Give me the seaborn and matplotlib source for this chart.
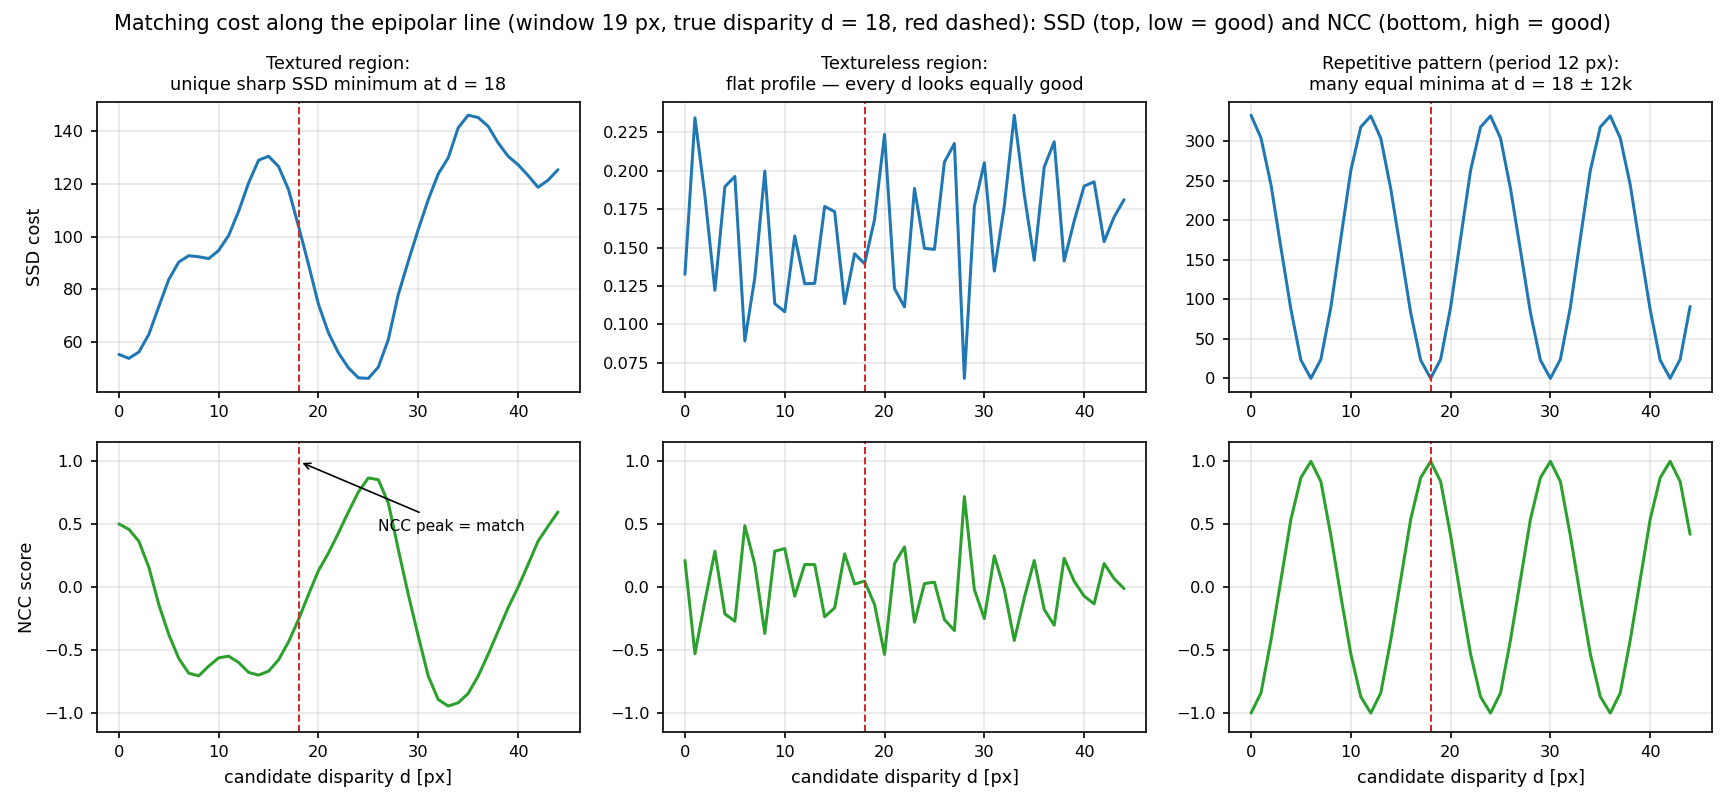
import numpy as np
import pandas as pd
import matplotlib
matplotlib.use("Agg")
import matplotlib.pyplot as plt
import seaborn as sns

# candidate disparities shown on every panel
disparity = list(range(45))
true_d = 18

# SSD cost
ssd_textured = [55.2, 53.7, 56.1, 62.8, 73.4, 83.7, 90.3, 92.7, 92.3, 91.6,
                94.7, 100.4, 109.6, 120.4, 129.0, 130.5, 126.6, 117.8, 103.9, 89.4,
                74.2, 63.4, 55.8, 50.1, 46.3, 46.1, 50.4, 60.9, 78.0, 90.6,
                102.7, 114.0, 123.8, 129.9, 141.3, 146.1, 145.2, 141.9, 135.6, 130.5,
                127.3, 123.2, 118.7, 121.4, 125.4]
ssd_textureless = [0.1326, 0.2343, 0.1837, 0.1222, 0.1895, 0.1962, 0.0893, 0.1304, 0.1997, 0.1135,
                   0.1083, 0.1575, 0.1265, 0.1267, 0.1767, 0.1733, 0.1135, 0.1460, 0.1395, 0.1683,
                   0.2235, 0.1233, 0.1114, 0.1884, 0.1495, 0.1488, 0.2055, 0.2176, 0.0650, 0.1769,
                   0.2051, 0.1347, 0.1769, 0.2360, 0.1845, 0.1417, 0.2023, 0.2187, 0.1412, 0.1672,
                   0.1899, 0.1927, 0.1538, 0.1698, 0.1811]
ssd_repetitive = [333, 304, 245, 165, 87, 23, 0, 24, 90, 177, 263, 318,
                  332, 304, 240, 162, 83, 23, 0, 24, 90, 177, 263, 318,
                  332, 304, 240, 162, 83, 23, 0, 24, 90, 177, 263, 318,
                  332, 304, 245, 165, 87, 23, 0, 24, 91]

# NCC score
ncc_textured = [0.503, 0.460, 0.365, 0.159, -0.138, -0.376, -0.566, -0.683, -0.704, -0.627,
                -0.561, -0.548, -0.598, -0.677, -0.698, -0.667, -0.577, -0.434, -0.257, -0.058,
                0.132, 0.272, 0.431, 0.598, 0.757, 0.868, 0.854, 0.669, 0.299, -0.058,
                -0.389, -0.706, -0.892, -0.944, -0.918, -0.844, -0.706, -0.534, -0.349, -0.164,
                0.000, 0.180, 0.365, 0.484, 0.598]
ncc_textureless = [0.212, -0.529, -0.111, 0.286, -0.212, -0.270, 0.489, 0.180, -0.368, 0.286,
                   0.307, -0.071, 0.180, 0.180, -0.235, -0.164, 0.265, 0.026, 0.048, -0.138,
                   -0.534, 0.188, 0.320, -0.278, 0.029, 0.040, -0.257, -0.344, 0.720, -0.019,
                   -0.249, 0.249, -0.019, -0.423, -0.085, 0.212, -0.177, -0.302, 0.230, 0.048,
                   -0.071, -0.132, 0.188, 0.069, -0.011]
ncc_repetitive = [-1.0, -0.84, -0.42, 0.06, 0.54, 0.87, 1.0, 0.84, 0.41, -0.07, -0.53, -0.87,
                  -1.0, -0.84, -0.42, 0.06, 0.54, 0.87, 1.0, 0.84, 0.41, -0.07, -0.53, -0.87,
                  -1.0, -0.84, -0.42, 0.06, 0.54, 0.87, 1.0, 0.84, 0.41, -0.07, -0.53, -0.87,
                  -1.0, -0.84, -0.42, 0.06, 0.54, 0.87, 1.0, 0.84, 0.42]

panel_titles = ["Textured region:\nunique sharp SSD minimum at d = 18",
                "Textureless region:\nflat profile \u2014 every d looks equally good",
                "Repetitive pattern (period 12 px):\nmany equal minima at d = 18 \u00b1 12k"]
suptitle = ("Matching cost along the epipolar line (window 19 px, true disparity d = 18, red dashed): "
            "SSD (top, low = good) and NCC (bottom, high = good)")

sns.set_theme(style="ticks")
plt.rcParams['font.family'] = ['DejaVu Sans']
plt.rcParams.update({
    'axes.edgecolor': 'black',
    'axes.linewidth': 0.8,
    'xtick.color': 'black',
    'ytick.color': 'black',
    'xtick.major.size': 2.9,
    'ytick.major.size': 2.9,
    'xtick.major.width': 0.8,
    'ytick.major.width': 0.8,
    'xtick.labelsize': 7.8,
    'ytick.labelsize': 7.8,
    'axes.labelsize': 8.45,
    'axes.titlesize': 8.45,
    'text.color': 'black',
    'axes.labelcolor': 'black',
})

fig, axes = plt.subplots(2, 3, figsize=(11.5, 5.36), dpi=150)
fig.subplots_adjust(left=0.0562, right=0.9925, top=0.8731, bottom=0.0896,
                    wspace=0.172, hspace=0.176)

ssd_rows = [ssd_textured, ssd_textureless, ssd_repetitive]
ncc_rows = [ncc_textured, ncc_textureless, ncc_repetitive]

for col in range(3):
    top = axes[0, col]
    bot = axes[1, col]
    df = pd.DataFrame({'d': disparity, 'ssd': ssd_rows[col], 'ncc': ncc_rows[col]})

    sns.lineplot(data=df, x='d', y='ssd', ax=top, color='#1f77b4', linewidth=1.45)
    sns.lineplot(data=df, x='d', y='ncc', ax=bot, color='#2ca02c', linewidth=1.45)

    for ax in (top, bot):
        ax.axvline(true_d, color='#d62728', linestyle=(0, (3.6, 1.6)), linewidth=0.95)
        ax.grid(True, color='#b0b0b0', alpha=0.3, linewidth=0.8)
        ax.set_xticks([0, 10, 20, 30, 40])
        ax.set_ylabel('')
        ax.set_xlabel('')
        for s in ax.spines.values():
            s.set_visible(True)

    top.set_title(panel_titles[col], pad=6)
    bot.set_ylim(-1.15, 1.15)
    bot.set_yticks([-1.0, -0.5, 0.0, 0.5, 1.0])
    bot.set_xlabel('candidate disparity d [px]')

axes[0, 0].set_ylabel('SSD cost')
axes[1, 0].set_ylabel('NCC score')

axes[1, 0].annotate('NCC peak = match', xy=(true_d, 1.0), xytext=(26, 0.45),
                    fontsize=7.4, arrowprops=dict(arrowstyle='->', color='black', lw=0.8))

fig.suptitle(suptitle, fontsize=10.05, y=0.982, va='top')

fig.savefig('out.png', dpi=150)
